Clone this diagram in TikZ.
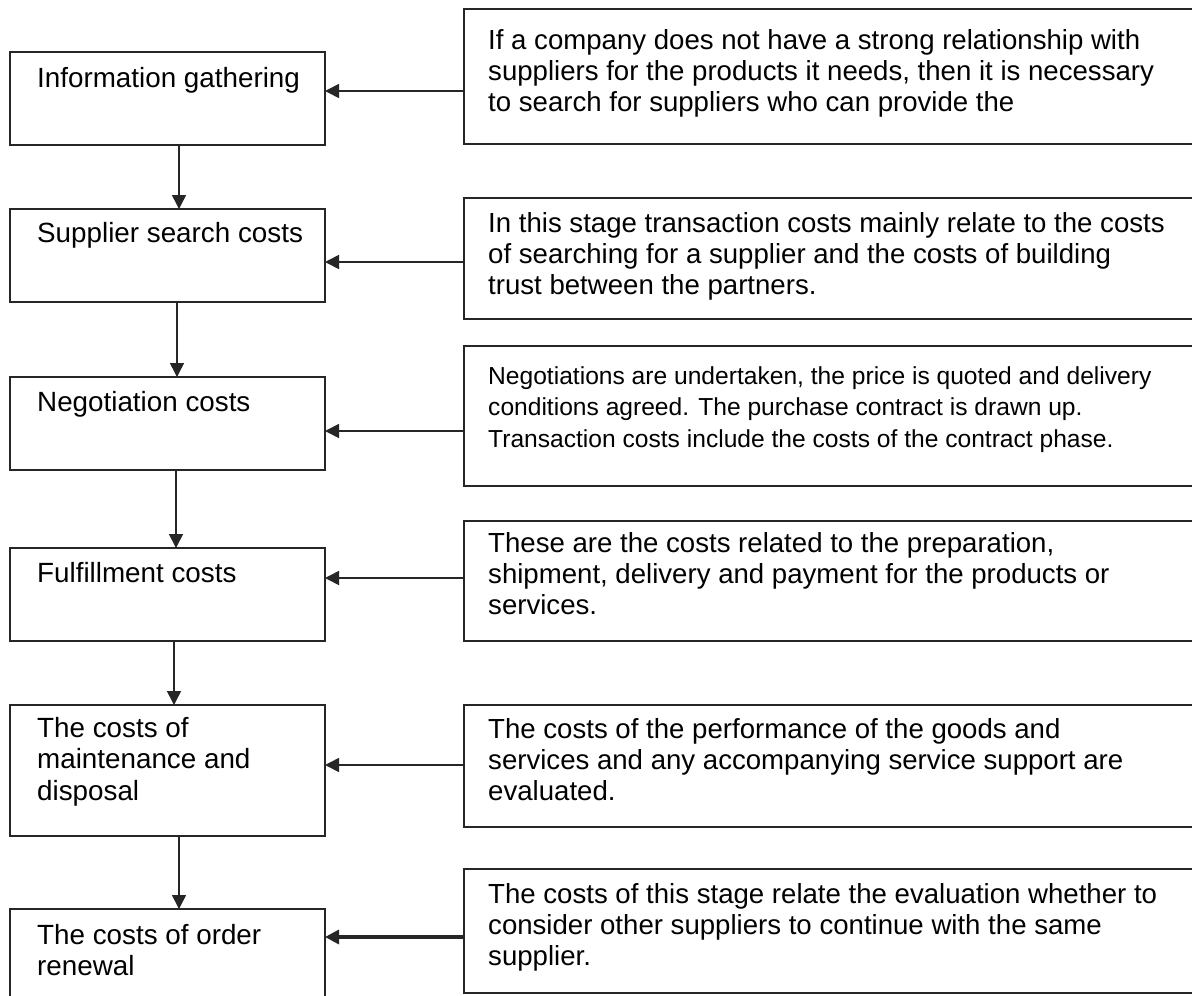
\documentclass[tikz,border=0pt]{standalone}
\usepackage{fontspec}
\setmainfont{Liberation Sans}
\usetikzlibrary{arrows.meta}
\begin{document}
\begin{tikzpicture}[x=1pt,y=-1pt,
  box/.style={draw=black!85, line width=1.8pt, inner sep=0pt, outer sep=0pt, anchor=north west},
  lbox/.style={box, minimum width=315pt},
  rbox/.style={box, minimum width=745pt},
  lbl/.style={anchor=north west, inner sep=0pt, align=left, font=\fontsize{27.8}{31.5}\selectfont},
  rlbl/.style={anchor=north west, inner sep=0pt, align=left, font=\fontsize{27.6}{31}\selectfont},
  slbl/.style={anchor=north west, inner sep=0pt, align=left, font=\fontsize{24.6}{31.5}\selectfont},
  harr/.style={draw=black!85, line width=1.6pt, -{Triangle[width=14pt,length=14pt]}},
  varr/.style={draw=black!85, line width=1.6pt, -{Triangle[width=14pt,length=14pt]}}
]
\useasboundingbox (0,0) rectangle (1192,996);
\fill[white] (0,0) rectangle (1192,996);
\clip (0,0) rectangle (1192,996);

% left boxes
\node[lbox, minimum height=93pt]  (L1) at (10,52) {};
\node[lbox, minimum height=93pt]  (L2) at (10,209) {};
\node[lbox, minimum height=93pt]  (L3) at (10,377) {};
\node[lbox, minimum height=93pt]  (L4) at (10,548) {};
\node[lbox, minimum height=131pt] (L5) at (10,705) {};
\node[lbox, minimum height=110pt] (L6) at (10,909) {};

% right boxes
\node[rbox, minimum height=135pt] (R1) at (464,9) {};
\node[rbox, minimum height=121pt] (R2) at (464,198) {};
\node[rbox, minimum height=140pt] (R3) at (464,346) {};
\node[rbox, minimum height=120pt] (R4) at (464,521) {};
\node[rbox, minimum height=122pt] (R5) at (464,705) {};
\node[rbox, minimum height=124pt] (R6) at (464,869) {};

% left texts
\node[lbl] (t1) at (37,67) {Information gathering};
\node[lbl] (t2) at (37,222) {Supplier search costs};
\node[lbl] (t3) at (37,391) {Negotiation costs};
\node[lbl] (t4) at (37,562) {Fulfillment costs};
\node[lbl] (t5) at (37,717) {The costs of\\maintenance and\\disposal};
\node[lbl] (t6) at (37,924) {The costs of order\\renewal};

% right texts
\node[rlbl] (s1) at (488,29) {If a company does not have a strong relationship with\\suppliers for the products it needs, then it is necessary\\to search for suppliers who can provide the};
\node[rlbl] (s2) at (488,212) {In this stage transaction costs mainly relate to the costs\\of searching for a supplier and the costs of building\\trust between the partners.};
\node[slbl] (s3) at (488,366) {Negotiations are undertaken, the price is quoted and delivery\\conditions agreed. The purchase contract is drawn up.\\Transaction costs include the costs of the contract phase.};
\node[rlbl] (s4) at (488,532) {These are the costs related to the preparation,\\shipment, delivery and payment for the products or\\services.};
\node[rlbl] (s5) at (488,718) {The costs of the performance of the goods and\\services and any accompanying service support are\\evaluated.};
\node[rlbl] (s6) at (488,883) {The costs of this stage relate the evaluation whether to\\consider other suppliers to continue with the same\\supplier.};

% horizontal connectors
\coordinate (h1) at (0,91);
\coordinate (h2) at (0,262);
\coordinate (h3) at (0,431);
\coordinate (h4) at (0,578);
\coordinate (h5) at (0,765);
\coordinate (h6) at (0,937);
\draw[harr] (h1 -| R1.west) -- (h1 -| L1.east);
\draw[harr] (h2 -| R2.west) -- (h2 -| L2.east);
\draw[harr] (h3 -| R3.west) -- (h3 -| L3.east);
\draw[harr] (h4 -| R4.west) -- (h4 -| L4.east);
\draw[harr] (h5 -| R5.west) -- (h5 -| L5.east);
\draw[harr, line width=3.2pt] (h6 -| R6.west) -- (h6 -| L6.east);

% vertical connectors
\coordinate (v1) at (179,0);
\coordinate (v2) at (177,0);
\coordinate (v3) at (176,0);
\coordinate (v4) at (174,0);
\coordinate (v5) at (179,0);
\draw[varr] (v1 |- L1.south) -- (v1 |- L2.north);
\draw[varr] (v2 |- L2.south) -- (v2 |- L3.north);
\draw[varr] (v3 |- L3.south) -- (v3 |- L4.north);
\draw[varr] (v4 |- L4.south) -- (v4 |- L5.north);
\draw[varr] (v5 |- L5.south) -- (v5 |- L6.north);
\end{tikzpicture}
\end{document}
